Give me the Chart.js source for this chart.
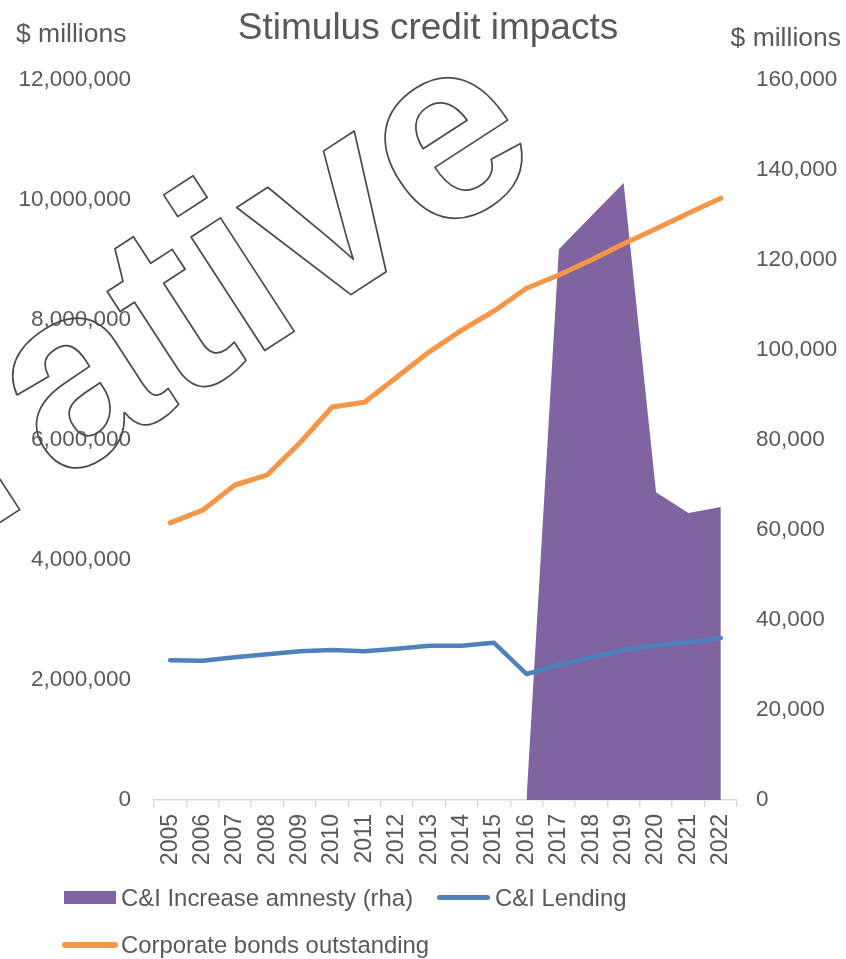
<!DOCTYPE html>
<html>
<head>
<meta charset="utf-8">
<script src="https://cdn.jsdelivr.net/npm/chart.js"></script>
<style>
  body { margin: 0; background: #fff; }
  #wrap { position: relative; width: 846px; height: 959px; }
  #chart { position: absolute; left: 0; top: 0; }
  .legend { position: absolute; font: 23.9px "Liberation Sans", Arial, sans-serif; color: #595959; white-space: nowrap; }
  .swatch { position: absolute; }
</style>
</head>
<body>
<div id="wrap">
  <canvas id="chart" width="846" height="959"></canvas>

  <div class="swatch" style="left:64px; top:891px; width:52px; height:13px; background:#8064a2;"></div>
  <div class="legend" style="left:121px; top:884px;">C&amp;I Increase amnesty (rha)</div>
  <div class="swatch" style="left:437px; top:895px; width:53px; height:5px; border-radius:3px; background:#4f81bd;"></div>
  <div class="legend" style="left:495px; top:884px;">C&amp;I Lending</div>

  <div class="swatch" style="left:62px; top:942px; width:56px; height:6px; border-radius:3px; background:#f79646;"></div>
  <div class="legend" style="left:121px; top:931px;">Corporate bonds outstanding</div>
</div>

<script>
const years = ['2005', '2006', '2007', '2008', '2009', '2010', '2011', '2012', '2013',
  '2014', '2015', '2016', '2017', '2018', '2019', '2020', '2021', '2022'];

// right hand axis, $ millions
const amnesty = [null, null, null, null, null, null, null, null, null, null, null,
  0, 122400, 129800, 137100, 68400, 63800, 65100];

// left hand axis, $ millions
const lending = [2330000, 2320000, 2380000, 2430000, 2480000, 2500000, 2480000, 2520000, 2570000,
  2570000, 2620000, 2100000, 2250000, 2380000, 2500000, 2580000, 2630000, 2700000];
const bonds = [4620000, 4830000, 5250000, 5420000, 5950000, 6550000, 6630000, 7050000, 7470000,
  7830000, 8150000, 8530000, 8750000, 9000000, 9270000, 9520000, 9780000, 10030000];

const leftTicks = [0, 2000000, 4000000, 6000000, 8000000, 10000000, 12000000];
const rightTicks = [0, 20000, 40000, 60000, 80000, 100000, 120000, 140000, 160000];

const FONT = '"Liberation Sans", Arial, sans-serif';
const GREY = '#595959';

// title, unit labels and the outlined watermark
const overlay = {
  id: 'overlay',
  afterDraw(chart) {
    const ctx = chart.ctx;
    ctx.save();
    ctx.fillStyle = GREY;
    ctx.textBaseline = 'alphabetic';

    ctx.font = '37px ' + FONT;
    ctx.textAlign = 'center';
    ctx.fillText('Stimulus credit impacts', 428, 39);

    ctx.font = '26.5px ' + FONT;
    ctx.textAlign = 'left';
    ctx.fillText('$ millions', 16, 42);
    ctx.textAlign = 'right';
    ctx.fillText('$ millions', 841, 46);

    // watermark, placed by the foot of its "i"
    const word = 'Illustrative';
    const ang = -33 * Math.PI / 180;
    ctx.font = 'bold 256px ' + FONT;
    ctx.textAlign = 'left';
    const pre = ctx.measureText('Illustrat').width;
    const lsb = -ctx.measureText('i').actualBoundingBoxLeft;
    const footX = 264, footY = 351;
    const along = pre + lsb;
    const ox = footX - along * Math.cos(ang);
    const oy = footY - along * Math.sin(ang);
    ctx.translate(ox, oy);
    ctx.rotate(ang);
    ctx.strokeStyle = '#4a4a4a';
    ctx.lineWidth = 1.7;
    ctx.lineJoin = 'round';
    ctx.strokeText(word, 0, 0);
    ctx.restore();
  }
};

new Chart(document.getElementById('chart'), {
  type: 'line',
  data: {
    labels: years,
    datasets: [
      {
        label: 'C&I Increase amnesty (rha)',
        data: amnesty,
        yAxisID: 'y1',
        fill: 'origin',
        backgroundColor: '#8064a2',
        borderColor: '#8064a2',
        borderWidth: 0,
        pointRadius: 0,
        order: 10
      },
      {
        label: 'C&I Lending',
        data: lending,
        yAxisID: 'y',
        borderColor: '#4f81bd',
        borderWidth: 4.5,
        pointRadius: 0,
        borderCapStyle: 'round',
        borderJoinStyle: 'round',
        order: 1
      },
      {
        label: 'Corporate bonds outstanding',
        data: bonds,
        yAxisID: 'y',
        borderColor: '#f79646',
        borderWidth: 5,
        pointRadius: 0,
        borderCapStyle: 'round',
        borderJoinStyle: 'round',
        order: 0
      }
    ]
  },
  options: {
    responsive: false,
    animation: false,
    layout: { padding: { top: 80, left: 0, right: 0, bottom: 0 } },
    plugins: {
      legend: { display: false },
      title: { display: false },
      tooltip: { enabled: false }
    },
    scales: {
      x: {
        offset: true,
        grid: { drawOnChartArea: false, offset: true, color: '#d9d9d9', lineWidth: 1.5, tickLength: 7 },
        border: { color: '#d9d9d9', width: 1.5 },
        ticks: {
          autoSkip: false, minRotation: 90, maxRotation: 90, padding: 7,
          color: GREY, font: { family: FONT, size: 23 }
        },
        afterFit(s) { s.height = 159; }
      },
      y: {
        position: 'left',
        min: 0, max: 12000000,
        grid: { display: false, drawTicks: false },
        border: { display: false },
        afterBuildTicks(s) { s.ticks = leftTicks.map(v => ({ value: v })); },
        ticks: {
          padding: 23, color: GREY, font: { family: FONT, size: 22.5 },
          callback: v => v.toLocaleString('en-US')
        },
        afterFit(s) { s.width = 154; }
      },
      y1: {
        position: 'right',
        min: 0, max: 160000,
        grid: { display: false, drawTicks: false },
        border: { display: false },
        afterBuildTicks(s) { s.ticks = rightTicks.map(v => ({ value: v })); },
        ticks: {
          padding: 19, color: GREY, font: { family: FONT, size: 22.5 },
          callback: v => v.toLocaleString('en-US')
        },
        afterFit(s) { s.width = 109; }
      }
    }
  },
  plugins: [overlay]
});
</script>
</body>
</html>
